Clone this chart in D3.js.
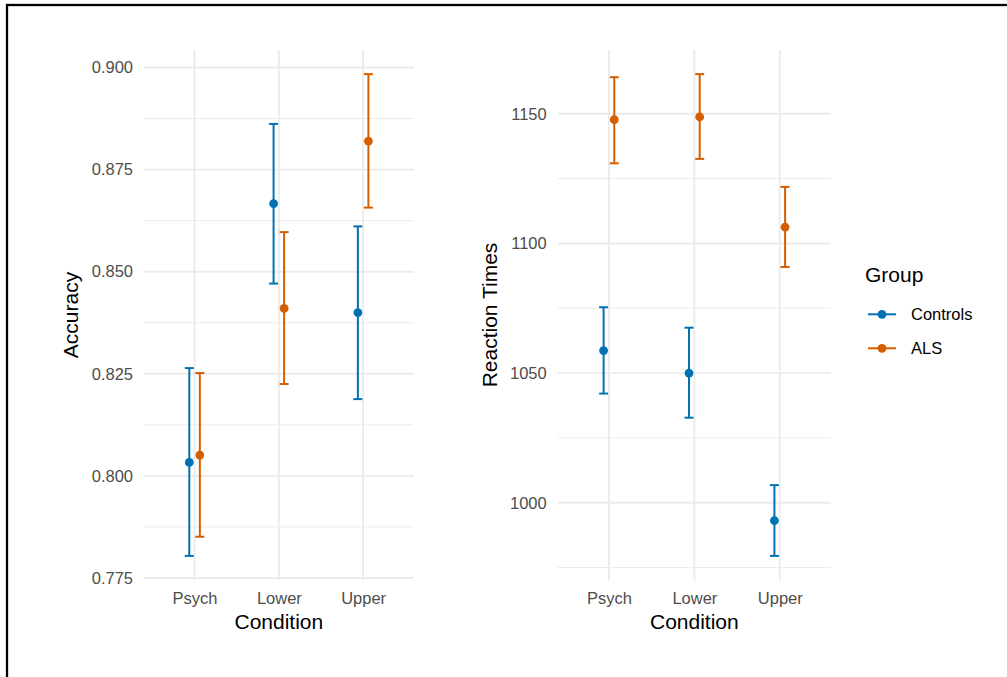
<!DOCTYPE html>
<html>
<head>
<meta charset="utf-8">
<script src="https://cdn.jsdelivr.net/npm/d3@7"></script>
<style>
  html, body { margin: 0; padding: 0; background: #fff; }
  svg { display: block; font-family: "Liberation Sans", Arial, Helvetica, sans-serif; }
</style>
</head>
<body>
<svg id="chart" width="1007" height="677"></svg>
<script>
// ---------- data ----------
const conditions = ["Psych", "Lower", "Upper"];
const groups = ["Controls", "ALS"];
const groupColors = ["#0072B2", "#D55E00"];

// Accuracy (mean, lower, upper) per condition
const accControlsMean  = [0.8033, 0.8667, 0.8400];
const accControlsLow   = [0.7804, 0.8471, 0.8188];
const accControlsHigh  = [0.8264, 0.8862, 0.8611];
const accALSMean       = [0.8051, 0.8410, 0.8820];
const accALSLow        = [0.7851, 0.8225, 0.8657];
const accALSHigh       = [0.8252, 0.8597, 0.8984];
const accTicks = [0.775, 0.800, 0.825, 0.850, 0.875, 0.900];

// Reaction times (mean, lower, upper) per condition
const rtControlsMean = [1058.7, 1050.0, 993.1];
const rtControlsLow  = [1042.1, 1032.8, 979.5];
const rtControlsHigh = [1075.4, 1067.5, 1006.8];
const rtALSMean      = [1147.7, 1148.8, 1106.3];
const rtALSLow       = [1130.9, 1132.6, 1090.9];
const rtALSHigh      = [1164.1, 1165.3, 1121.8];
const rtTicks = [1000, 1050, 1100, 1150];

function rows(means, lows, highs, group) {
  return conditions.map((c, i) => ({ cond: c, group, mean: means[i], low: lows[i], high: highs[i] }));
}
const accData = rows(accControlsMean, accControlsLow, accControlsHigh, "Controls")
  .concat(rows(accALSMean, accALSLow, accALSHigh, "ALS"));
const rtData = rows(rtControlsMean, rtControlsLow, rtControlsHigh, "Controls")
  .concat(rows(rtALSMean, rtALSLow, rtALSHigh, "ALS"));

// ---------- drawing ----------
const svg = d3.select("#chart");
const color = d3.scaleOrdinal().domain(groups).range(groupColors);

svg.append("rect")
  .attr("x", 7).attr("y", 5).attr("width", 1100).attr("height", 800)
  .attr("fill", "none").attr("stroke", "#000").attr("stroke-width", 2.3);

function panel(opts) {
  const { data, left, right, top, bottom, ticks, fmt, ytitle, ytitleX } = opts;
  const g = svg.append("g");
  const lo = d3.min(data, d => d.low), hi = d3.max(data, d => d.high);
  const pad = (hi - lo) * 0.05;
  const y = d3.scaleLinear().domain([lo - pad, hi + pad]).range([bottom, top]);
  const x = d3.scalePoint().domain(conditions).range([left, right]).padding(0.6);
  const step = x.step();
  const dodge = d3.scaleOrdinal().domain(groups).range([-0.0625 * step, 0.0625 * step]);

  // minor grid
  const minors = ticks.slice(0, -1).map((t, i) => (t + ticks[i + 1]) / 2);
  const stepT = ticks[1] - ticks[0];
  minors.unshift(ticks[0] - stepT / 2);
  minors.push(ticks[ticks.length - 1] + stepT / 2);
  const [d0, d1] = y.domain();
  g.selectAll(".minor").data(minors.filter(v => v >= d0 && v <= d1)).enter().append("line")
    .attr("x1", left).attr("x2", right)
    .attr("y1", d => y(d)).attr("y2", d => y(d))
    .attr("stroke", "#EBEBEB").attr("stroke-width", 1);
  // major grid
  g.selectAll(".major").data(ticks).enter().append("line")
    .attr("x1", left).attr("x2", right)
    .attr("y1", d => y(d)).attr("y2", d => y(d))
    .attr("stroke", "#EBEBEB").attr("stroke-width", 1.9);
  g.selectAll(".vmajor").data(conditions).enter().append("line")
    .attr("x1", d => x(d)).attr("x2", d => x(d))
    .attr("y1", top).attr("y2", bottom)
    .attr("stroke", "#EBEBEB").attr("stroke-width", 1.9);

  // y axis (labels only)
  const yAxis = d3.axisLeft(y).tickValues(ticks).tickFormat(fmt).tickSize(0).tickPadding(0);
  const ya = g.append("g").attr("transform", `translate(${left - 11},0)`).call(yAxis);
  ya.select(".domain").remove();
  ya.selectAll("text").attr("fill", "#4D4D4D").style("font-size", "16.5px")
    .attr("font-family", "Liberation Sans, Arial, sans-serif");

  // x axis (labels only)
  const xAxis = d3.axisBottom(x).tickSize(0).tickPadding(0);
  const xa = g.append("g").attr("transform", `translate(0,${bottom + 12})`).call(xAxis);
  xa.select(".domain").remove();
  xa.selectAll("text").attr("fill", "#4D4D4D").style("font-size", "16.5px")
    .attr("font-family", "Liberation Sans, Arial, sans-serif");

  // error bars
  const capW = 4.5;
  const eb = g.selectAll(".eb").data(data).enter().append("g")
    .attr("stroke", d => color(d.group)).attr("stroke-width", 2).attr("fill", "none");
  eb.append("line")
    .attr("x1", d => x(d.cond) + dodge(d.group)).attr("x2", d => x(d.cond) + dodge(d.group))
    .attr("y1", d => y(d.low)).attr("y2", d => y(d.high));
  eb.append("line")
    .attr("x1", d => x(d.cond) + dodge(d.group) - capW).attr("x2", d => x(d.cond) + dodge(d.group) + capW)
    .attr("y1", d => y(d.low)).attr("y2", d => y(d.low));
  eb.append("line")
    .attr("x1", d => x(d.cond) + dodge(d.group) - capW).attr("x2", d => x(d.cond) + dodge(d.group) + capW)
    .attr("y1", d => y(d.high)).attr("y2", d => y(d.high));

  // points
  g.selectAll(".pt").data(data).enter().append("circle")
    .attr("cx", d => x(d.cond) + dodge(d.group))
    .attr("cy", d => y(d.mean))
    .attr("r", 4.4)
    .attr("fill", d => color(d.group));

  // titles
  g.append("text")
    .attr("x", (left + right) / 2).attr("y", bottom + 49)
    .attr("text-anchor", "middle").attr("fill", "#000").style("font-size", "21px")
    .text("Condition");
  g.append("text")
    .attr("transform", `translate(${ytitleX},${(top + bottom) / 2}) rotate(-90)`)
    .attr("text-anchor", "middle").attr("fill", "#000").style("font-size", "21px")
    .text(ytitle);
}

panel({ data: accData, left: 144, right: 413.7, top: 50, bottom: 580,
        ticks: accTicks, fmt: d3.format(".3f"), ytitle: "Accuracy", ytitleX: 78 });
panel({ data: rtData, left: 557.7, right: 831, top: 50, bottom: 580,
        ticks: rtTicks, fmt: d3.format("d"), ytitle: "Reaction Times", ytitleX: 497 });

// legend
const leg = svg.append("g");
leg.append("text").attr("x", 865).attr("y", 282).style("font-size", "21px").attr("fill", "#000").text("Group");
const items = leg.selectAll(".item").data(groups).enter().append("g")
  .attr("transform", (d, i) => `translate(0,${314.3 + i * 34})`);
items.append("line").attr("x1", 868).attr("x2", 896).attr("y1", 0).attr("y2", 0)
  .attr("stroke", d => color(d)).attr("stroke-width", 2);
items.append("circle").attr("cx", 882).attr("cy", 0).attr("r", 4.4).attr("fill", d => color(d));
items.append("text").attr("x", 911).attr("y", 0).attr("dy", "0.35em")
  .style("font-size", "16.5px").attr("fill", "#000").text(d => d);
</script>
</body>
</html>
